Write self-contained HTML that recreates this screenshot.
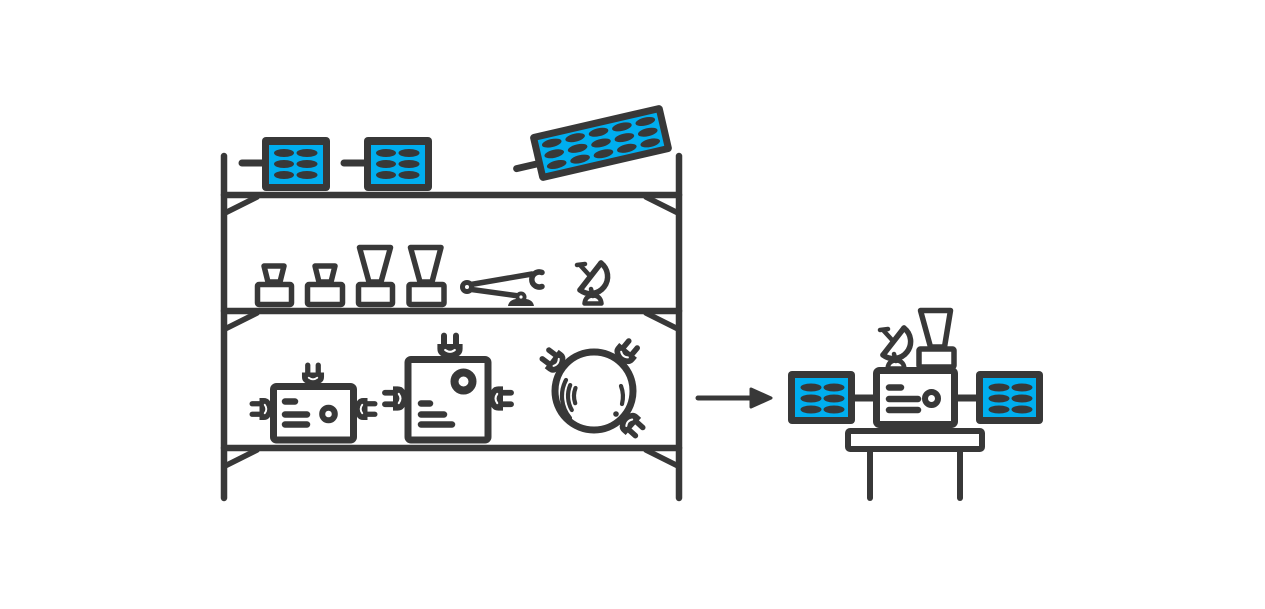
<!DOCTYPE html>
<html>
<head>
<meta charset="utf-8">
<style>
  html,body{margin:0;padding:0;background:#fff;}
  body{width:1265px;height:609px;overflow:hidden;}
  svg{display:block;}
</style>
</head>
<body>
<svg width="1265" height="609" viewBox="0 0 1265 609" xmlns="http://www.w3.org/2000/svg">
  <defs>
    <g id="plug">
      <path d="M-10.5,-10 L10.5,-10 L10.5,-6 Q10.5,1.5 0,1.5 Q-10.5,1.5 -10.5,-6 Z" fill="#383838"/>
      <line x1="-5" y1="-10" x2="-5" y2="-17" stroke="#383838" stroke-width="5" stroke-linecap="round"/>
      <line x1="5" y1="-10" x2="5" y2="-17" stroke="#383838" stroke-width="5" stroke-linecap="round"/>
      <path d="M-4,-5 Q0,-2 4,-5" stroke="#fff" stroke-width="1.8" fill="none" stroke-linecap="round"/>
    </g>
    <g id="dish" fill="none" stroke="#383838" stroke-linecap="round" stroke-linejoin="round">
      <line x1="601" y1="263" x2="580" y2="290" stroke-width="5.5"/>
      <path d="M601,263 A17,17 0 0 1 580,290" stroke-width="5.5"/>
      <line x1="590" y1="276" x2="580" y2="265" stroke-width="4.5"/>
      <line x1="577" y1="265" x2="585" y2="264" stroke-width="4.5"/>
      <line x1="591" y1="289" x2="593" y2="296" stroke-width="4.5"/>
      <path d="M584.5,303.5 Q585.5,295.5 593,295.5 Q600.5,295.5 601.5,303.5 Z" stroke-width="4.5"/>
    </g>
  </defs>

  <g stroke="#383838" stroke-linecap="round" fill="none">
    <!-- shelf posts -->
    <line x1="224" y1="156" x2="224" y2="498" stroke-width="6.5"/>
    <line x1="679" y1="156" x2="679" y2="498" stroke-width="6.5"/>
    <!-- shelves -->
    <line x1="224" y1="195" x2="679" y2="195" stroke-width="6.5"/>
    <line x1="224" y1="311" x2="679" y2="311" stroke-width="6.5"/>
    <line x1="224" y1="448" x2="679" y2="448" stroke-width="6.5"/>
    <!-- braces -->
    <line x1="225" y1="213" x2="257" y2="197" stroke-width="5.5"/>
    <line x1="678" y1="213" x2="646" y2="197" stroke-width="5.5"/>
    <line x1="225" y1="329" x2="257" y2="313" stroke-width="5.5"/>
    <line x1="678" y1="329" x2="646" y2="313" stroke-width="5.5"/>
    <line x1="225" y1="466" x2="257" y2="450" stroke-width="5.5"/>
    <line x1="678" y1="466" x2="646" y2="450" stroke-width="5.5"/>
  </g>

  <!-- top shelf solar panels -->
  <g>
    <line x1="242" y1="163" x2="262" y2="163" stroke="#383838" stroke-width="7" stroke-linecap="round"/>
    <rect x="262" y="137" width="68" height="54" rx="4" fill="#383838"/>
    <rect x="269" y="145" width="54" height="39" fill="#00aeef"/>
    <g fill="#383838">
      <ellipse cx="284" cy="153" rx="10" ry="4"/><ellipse cx="307" cy="153" rx="10.5" ry="4"/>
      <ellipse cx="284" cy="164" rx="10" ry="4"/><ellipse cx="307" cy="164" rx="10.5" ry="4"/>
      <ellipse cx="284" cy="175" rx="10" ry="4"/><ellipse cx="307" cy="175" rx="10.5" ry="4"/>
    </g>
  </g>
  <g transform="translate(102,0)">
    <line x1="242" y1="163" x2="262" y2="163" stroke="#383838" stroke-width="7" stroke-linecap="round"/>
    <rect x="262" y="137" width="68" height="54" rx="4" fill="#383838"/>
    <rect x="269" y="145" width="54" height="39" fill="#00aeef"/>
    <g fill="#383838">
      <ellipse cx="284" cy="153" rx="10" ry="4"/><ellipse cx="307" cy="153" rx="10.5" ry="4"/>
      <ellipse cx="284" cy="164" rx="10" ry="4"/><ellipse cx="307" cy="164" rx="10.5" ry="4"/>
      <ellipse cx="284" cy="175" rx="10" ry="4"/><ellipse cx="307" cy="175" rx="10.5" ry="4"/>
    </g>
  </g>
  <!-- tilted panel -->
  <g transform="translate(601,143) rotate(-13)">
    <line x1="-88" y1="6" x2="-68" y2="6" stroke="#383838" stroke-width="7" stroke-linecap="round"/>
    <rect x="-68" y="-24" width="136" height="48" rx="4" fill="#383838"/>
    <rect x="-61" y="-17" width="122" height="34" fill="#00aeef"/>
    <g fill="#383838">
      <ellipse cx="-48" cy="-11" rx="10" ry="4"/><ellipse cx="-24" cy="-11" rx="10" ry="4"/><ellipse cx="0" cy="-11" rx="10" ry="4"/><ellipse cx="24" cy="-11" rx="10" ry="4"/><ellipse cx="48" cy="-11" rx="10" ry="4"/>
      <ellipse cx="-48" cy="0" rx="10" ry="4"/><ellipse cx="-24" cy="0" rx="10" ry="4"/><ellipse cx="0" cy="0" rx="10" ry="4"/><ellipse cx="24" cy="0" rx="10" ry="4"/><ellipse cx="48" cy="0" rx="10" ry="4"/>
      <ellipse cx="-48" cy="11" rx="10" ry="4"/><ellipse cx="-24" cy="11" rx="10" ry="4"/><ellipse cx="0" cy="11" rx="10" ry="4"/><ellipse cx="24" cy="11" rx="10" ry="4"/><ellipse cx="48" cy="11" rx="10" ry="4"/>
    </g>
  </g>

  <!-- middle shelf items -->
  <g fill="none" stroke="#383838" stroke-width="5.5" stroke-linejoin="round">
    <rect x="257.5" y="284.5" width="34" height="20" rx="1.5"/>
    <polygon points="264,266 284,266 280,282 268,282"/>
    <rect x="307.5" y="284.5" width="35" height="20" rx="1.5"/>
    <polygon points="315,266 335,266 331,282 319,282"/>
    <rect x="358.5" y="284.5" width="34" height="20" rx="1.5"/>
    <polygon points="359.5,247.5 390.5,247.5 381,282 369,282"/>
    <rect x="409" y="284.5" width="35" height="20" rx="1.5"/>
    <polygon points="410.5,247.5 441,247.5 432,282 420,282"/>
  </g>

  <!-- robot arm -->
  <g stroke="#383838" stroke-linecap="round" fill="none">
    <line x1="468" y1="285" x2="532" y2="274" stroke-width="5.5"/>
    <line x1="468" y1="289" x2="519" y2="296" stroke-width="5.5"/>
    <path d="M542,272.5 A7.5,7.5 0 1 0 542,286.5" stroke-width="5.5"/>
  </g>
  <circle cx="467" cy="287" r="7" fill="#383838"/>
  <circle cx="467" cy="287" r="2" fill="#fff"/>
  <path d="M508,306 Q509,298.5 521,298.5 Q533,298.5 534,306 Z" fill="#383838"/>
  <circle cx="521" cy="297" r="5.5" fill="#383838"/>
  <circle cx="521" cy="297" r="1.6" fill="#fff"/>

  <!-- dish on shelf -->
  <use href="#dish"/>

  <!-- bottom shelf: box 1 -->
  <g>
    <use href="#plug" transform="translate(313,383) scale(1.05)"/>
    <use href="#plug" transform="translate(270,409) rotate(-90) scale(1.05)"/>
    <use href="#plug" transform="translate(357,409) rotate(90) scale(1.05)"/>
    <rect x="273.5" y="386.5" width="80" height="53.5" rx="3" fill="#fff" stroke="#383838" stroke-width="7"/>
    <g stroke="#383838" stroke-width="6.5" stroke-linecap="round">
      <line x1="285" y1="401.5" x2="295" y2="401.5"/>
      <line x1="285" y1="414.5" x2="307" y2="414.5"/>
      <line x1="285" y1="424.5" x2="307" y2="424.5"/>
    </g>
    <circle cx="328.5" cy="414" r="6.3" fill="none" stroke="#383838" stroke-width="6"/>
  </g>

  <!-- box 2 -->
  <g>
    <use href="#plug" transform="translate(450,356) scale(1.2)"/>
    <use href="#plug" transform="translate(404.5,398.5) rotate(-90) scale(1.15)"/>
    <use href="#plug" transform="translate(491.5,398.5) rotate(90) scale(1.15)"/>
    <rect x="408" y="359.5" width="80" height="80.5" rx="3" fill="#fff" stroke="#383838" stroke-width="7"/>
    <g stroke="#383838" stroke-width="6.5" stroke-linecap="round">
      <line x1="421" y1="403.5" x2="430" y2="403.5"/>
      <line x1="421" y1="414.5" x2="444" y2="414.5"/>
      <line x1="421" y1="424.5" x2="452" y2="424.5"/>
    </g>
    <circle cx="463.5" cy="381.5" r="9" fill="none" stroke="#383838" stroke-width="8"/>
  </g>

  <!-- ball -->
  <g>
    <use href="#plug" transform="translate(560.5,365.7) rotate(-53) scale(1.1)"/>
    <use href="#plug" transform="translate(621,358.8) rotate(40) scale(1.1)"/>
    <use href="#plug" transform="translate(625.2,419.1) rotate(132) scale(1.1)"/>
    <circle cx="594" cy="391" r="39" fill="#fff" stroke="#383838" stroke-width="7"/>
    <g fill="none" stroke="#383838" stroke-width="4.2" stroke-linecap="round">
      <path d="M566,380 A34,34 0 0 0 570,418"/>
      <path d="M570.2,385.1 A28,28 0 0 0 571.8,410"/>
      <path d="M575.5,388 A22,22 0 0 0 575.2,403.2"/>
      <path d="M621,386 A30,30 0 0 1 622,404"/>
    </g>
    <circle cx="616" cy="414" r="2.8" fill="#383838"/>
  </g>

  <!-- arrow -->
  <line x1="698" y1="398" x2="756" y2="398" stroke="#383838" stroke-width="5" stroke-linecap="round"/>
  <polygon points="751,389 771,398 751,407" fill="#383838" stroke="#383838" stroke-width="3" stroke-linejoin="round"/>

  <!-- assembled satellite -->
  <g stroke="#383838" stroke-linecap="round" fill="none">
    <line x1="870" y1="451" x2="870" y2="498" stroke-width="6"/>
    <line x1="960" y1="451" x2="960" y2="498" stroke-width="6"/>
    <line x1="850" y1="398" x2="980" y2="398" stroke-width="7"/>
  </g>
  <rect x="848" y="431" width="134" height="18" rx="2" fill="#fff" stroke="#383838" stroke-width="6"/>

  <!-- top instrument -->
  <g fill="none" stroke="#383838" stroke-width="5.5" stroke-linejoin="round">
    <polygon points="920.5,310.5 950.5,310.5 944.5,347 930.5,347"/>
    <rect x="919" y="349" width="35" height="18" rx="1.5" fill="#fff"/>
  </g>
  <use href="#dish" transform="translate(303,65)"/>

  <!-- central box -->
  <rect x="876.5" y="370.5" width="78" height="54" rx="3" fill="#fff" stroke="#383838" stroke-width="7"/>
  <g stroke="#383838" stroke-width="6.5" stroke-linecap="round">
    <line x1="889" y1="387.5" x2="901" y2="387.5"/>
    <line x1="889" y1="399" x2="918" y2="399"/>
    <line x1="889" y1="410" x2="918" y2="410"/>
  </g>
  <circle cx="931.5" cy="398.5" r="6.5" fill="none" stroke="#383838" stroke-width="6"/>

  <!-- left panel -->
  <rect x="788" y="371" width="67" height="53" rx="4" fill="#383838"/>
  <rect x="795" y="378" width="53" height="39" fill="#00aeef"/>
  <g fill="#383838">
    <ellipse cx="811" cy="387.5" rx="10.5" ry="4"/><ellipse cx="834" cy="387.5" rx="10.5" ry="4"/>
    <ellipse cx="811" cy="398.5" rx="10.5" ry="4"/><ellipse cx="834" cy="398.5" rx="10.5" ry="4"/>
    <ellipse cx="811" cy="409.5" rx="10.5" ry="4"/><ellipse cx="834" cy="409.5" rx="10.5" ry="4"/>
  </g>
  <!-- right panel -->
  <rect x="976" y="371" width="67" height="53" rx="4" fill="#383838"/>
  <rect x="983" y="378" width="53" height="39" fill="#00aeef"/>
  <g fill="#383838">
    <ellipse cx="999" cy="387.5" rx="10.5" ry="4"/><ellipse cx="1022" cy="387.5" rx="10.5" ry="4"/>
    <ellipse cx="999" cy="398.5" rx="10.5" ry="4"/><ellipse cx="1022" cy="398.5" rx="10.5" ry="4"/>
    <ellipse cx="999" cy="409.5" rx="10.5" ry="4"/><ellipse cx="1022" cy="409.5" rx="10.5" ry="4"/>
  </g>
</svg>
</body>
</html>
